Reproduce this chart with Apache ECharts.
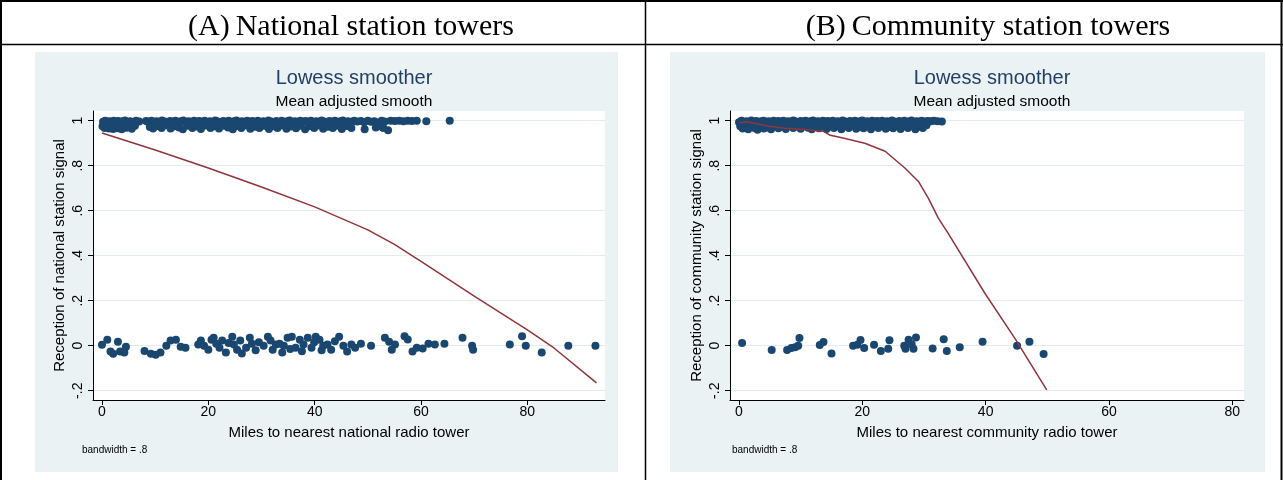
<!DOCTYPE html>
<html>
<head>
<meta charset="utf-8">
<script src="https://cdn.jsdelivr.net/npm/echarts@6/dist/echarts.min.js"></script>
<style>
html,body{margin:0;padding:0;background:#fff;}
#c{width:1283px;height:480px;}
</style>
</head>
<body>
<div id="c"></div>
<script>
// ---- tick labels ----
const xTicksNat = [0, 20, 40, 60, 80];
const xTicksCom = [0, 20, 40, 60, 80];
const yTicks = [-0.2, 0, 0.2, 0.4, 0.6, 0.8, 1];
const yTickLabels = ['-.2', '0', '.2', '.4', '.6', '.8', '1'];

// ---- Panel A: national station towers ----
const natTopUpper = [[0.2,0.995],[0.6,1.0],[1.0,0.99],[1.4,0.998],[1.8,0.992],[2.2,1.0],[2.6,0.994],[3.0,0.999],[3.4,0.99],[3.8,0.997],[4.3,1.001],[4.8,0.993],[5.3,0.998],[5.9,0.991],[6.4,1.0],[7.0,0.996],[8.3,0.999],[8.8,0.992],[9.3,1.0],[9.8,0.995],[10.3,0.998],[10.8,0.99],[11.3,1.001],[11.8,0.996],[12.3,0.993],[12.8,0.999],[13.3,0.994],[13.8,1.0],[14.3,0.99],[14.8,0.997],[15.3,1.001],[15.8,0.993],[16.3,0.998],[16.8,0.991],[17.3,1.0],[17.8,0.995],[18.3,0.999],[18.8,0.992],[19.3,1.0],[19.8,0.994],[20.3,0.998],[20.8,0.99],[21.3,1.001],[21.8,0.996],[22.3,0.993],[22.8,0.999],[23.3,0.994],[23.8,1.0],[24.3,0.991],[24.8,0.997],[25.3,1.001],[25.8,0.993],[26.3,0.998],[26.8,0.99],[27.3,1.0],[27.8,0.995],[28.3,0.999],[28.8,0.992],[29.3,1.0],[29.8,0.994],[30.3,0.998],[30.8,0.991],[31.3,1.001],[31.8,0.996],[32.3,0.993],[32.8,0.999],[33.3,0.994],[33.8,1.0],[34.3,0.99],[34.8,0.997],[35.3,1.001],[35.8,0.993],[36.3,0.998],[36.8,0.991],[37.3,1.0],[37.8,0.995],[38.3,0.999],[38.8,0.992],[39.3,1.0],[39.8,0.994],[40.3,0.998],[40.8,0.99],[41.3,1.001],[41.8,0.996],[42.3,0.993],[42.8,0.999],[43.3,0.994],[43.8,1.0],[44.3,0.991],[44.8,0.997],[45.3,1.001],[45.8,0.993],[46.3,0.998],[46.8,0.99],[47.4,1.0],[48.0,0.996],[48.7,0.999],[49.3,0.993],[50.0,1.0],[50.6,0.995],[51.2,0.998],[51.9,0.992],[52.6,1.0],[53.2,0.996],[54.3,1.0],[55.1,0.999],[55.9,1.0],[56.7,0.998],[57.5,1.0],[58.3,0.999],[59.2,1.0],[61.0,0.998],[65.4,1.0]];
const natTopLower = [[0.1,0.975],[0.5,0.968],[0.9,0.98],[1.3,0.965],[1.7,0.972],[2.1,0.963],[2.5,0.978],[2.9,0.966],[3.3,0.973],[3.7,0.962],[4.1,0.977],[4.6,0.969],[5.1,0.975],[5.6,0.964],[6.2,0.978],[9.0,0.972],[9.6,0.965],[10.5,0.976],[11.2,0.968],[12.0,0.98],[12.9,0.965],[13.6,0.975],[14.5,0.97],[15.2,0.962],[16.1,0.978],[17.0,0.967],[17.9,0.974],[18.6,0.963],[19.5,0.979],[20.4,0.968],[21.1,0.975],[22.0,0.965],[22.9,0.978],[23.7,0.97],[24.6,0.962],[25.4,0.976],[26.2,0.967],[27.1,0.979],[27.9,0.964],[28.8,0.973],[29.6,0.968],[30.5,0.978],[31.4,0.963],[32.1,0.975],[33.0,0.967],[33.9,0.979],[34.7,0.964],[35.6,0.974],[36.5,0.966],[37.3,0.978],[38.2,0.962],[39.0,0.975],[39.9,0.968],[40.8,0.979],[41.6,0.964],[42.5,0.973],[43.4,0.967],[44.2,0.978],[45.1,0.963],[46.0,0.976],[46.9,0.968],[49.4,0.962],[51.5,0.97],[52.3,0.975],[52.9,0.968],[53.8,0.958]];
const natBottom = [[0.0,0.004],[1.0,0.026],[1.6,-0.026],[2.1,-0.036],[3.0,0.018],[3.4,-0.026],[4.2,-0.03],[4.5,-0.005],[8.0,-0.023],[9.2,-0.036],[10.1,-0.04],[11.0,-0.03],[12.1,0.0],[12.9,0.023],[13.9,0.026],[14.8,-0.005],[15.7,-0.009],[18.1,0.005],[18.6,0.023],[19.2,0.0],[20.0,-0.018],[20.6,0.026],[21.0,0.035],[21.5,0.009],[22.1,-0.009],[22.6,0.023],[23.3,-0.03],[23.8,0.012],[24.5,0.04],[24.8,0.005],[25.4,-0.018],[26.0,0.023],[26.3,-0.035],[27.1,-0.009],[27.8,0.035],[28.2,0.009],[28.9,-0.02],[29.5,0.015],[30.4,0.0],[31.2,0.04],[31.7,0.023],[32.1,-0.018],[32.7,0.005],[33.4,0.009],[33.9,-0.03],[34.2,0.0],[34.9,0.035],[35.4,-0.015],[35.7,0.04],[36.4,-0.009],[37.2,0.026],[37.6,-0.025],[37.9,0.005],[38.7,0.035],[39.4,-0.009],[39.9,0.015],[40.2,0.04],[40.9,0.026],[41.3,-0.02],[41.6,0.0],[42.4,0.005],[43.1,-0.018],[43.8,0.02],[44.6,0.04],[45.4,0.0],[46.1,-0.026],[46.9,0.005],[47.6,-0.009],[48.7,0.009],[50.6,0.0],[53.2,0.035],[54.0,0.018],[54.5,-0.018],[55.1,0.005],[56.9,0.042],[57.5,0.028],[58.4,-0.026],[59.2,-0.009],[60.3,-0.012],[61.4,0.009],[62.6,0.005],[64.4,0.009],[67.8,0.035],[69.6,0.0],[69.8,-0.018],[76.7,0.005],[79.0,0.042],[79.7,0.0],[82.7,-0.03],[87.7,0.0],[92.8,0.0]];
const natLowess = [[0,0.945],[10,0.87],[20,0.79],[30,0.705],[40,0.617],[50,0.515],[55,0.45],[60,0.375],[70,0.22],[80,0.07],[85,-0.01],[93,-0.165]];

// ---- Panel B: community station towers ----
const comTopUpper = [[0,0.993],[0.4,1.0],[0.8,0.99],[1.2,0.998],[1.6,0.992],[2.0,1.001],[2.4,0.994],[2.8,0.999],[3.2,0.991],[3.6,0.997],[4.0,1.0],[4.4,0.993],[4.8,0.998],[5.2,0.99],[5.6,1.0],[6.0,0.995],[6.4,0.999],[6.8,0.992],[7.2,1.0],[7.6,0.994],[8.0,0.998],[8.4,0.991],[8.8,1.001],[9.2,0.996],[9.6,0.993],[10.0,0.999],[10.4,0.994],[10.8,1.0],[11.2,0.99],[11.6,0.997],[12.0,1.001],[12.4,0.993],[12.8,0.998],[13.2,0.991],[13.6,1.0],[14.0,0.995],[14.4,0.999],[14.8,0.992],[15.2,1.0],[15.6,0.994],[16.0,0.998],[16.4,0.99],[16.8,1.001],[17.2,0.996],[17.6,0.993],[18.0,0.999],[18.4,0.994],[18.8,1.0],[19.2,0.991],[19.6,0.997],[20.0,1.001],[20.4,0.993],[20.8,0.998],[21.2,0.99],[21.6,1.0],[22.0,0.995],[22.4,0.999],[22.8,0.992],[23.2,1.0],[23.6,0.994],[24.0,0.998],[24.4,0.991],[24.8,1.001],[25.2,0.996],[25.6,0.993],[26.0,0.999],[26.4,0.994],[26.8,1.0],[27.2,0.99],[27.6,0.997],[28.0,1.001],[28.4,0.993],[28.8,0.998],[29.2,0.991],[29.6,1.0],[30.1,0.996],[30.6,0.999],[31.1,0.997],[31.6,1.0],[32.2,0.998],[32.9,0.996]];
const comTopLower = [[0.2,0.975],[0.6,0.965],[1.1,0.972],[1.5,0.962],[2.0,0.978],[2.5,0.967],[3.0,0.96],[3.5,0.974],[4.0,0.965],[4.6,0.97],[5.2,0.962],[5.8,0.977],[6.4,0.966],[7.0,0.973],[7.6,0.963],[8.2,0.978],[8.8,0.968],[9.4,0.975],[10.0,0.964],[10.6,0.978],[11.2,0.969],[11.8,0.962],[12.4,0.976],[13.0,0.966],[13.6,0.979],[14.2,0.963],[14.8,0.974],[15.4,0.967],[16.0,0.977],[16.6,0.962],[17.2,0.975],[17.8,0.968],[18.4,0.979],[19.0,0.964],[19.6,0.973],[20.2,0.966],[20.8,0.978],[21.4,0.962],[22.0,0.975],[22.6,0.967],[23.2,0.979],[23.8,0.964],[24.4,0.973],[25.0,0.966],[25.6,0.978],[26.2,0.963],[26.8,0.975],[27.4,0.968],[28.0,0.979],[28.6,0.962],[29.2,0.974],[29.8,0.967],[30.4,0.98]];
const comBottom = [[0.5,0.012],[5.3,-0.019],[7.8,-0.019],[8.5,-0.01],[9.1,-0.007],[9.6,0.0],[9.8,0.034],[13.1,0.003],[13.7,0.016],[15.0,-0.035],[18.5,0.0],[19.2,0.004],[19.7,0.025],[20.3,-0.01],[21.9,0.004],[23.0,-0.024],[24.2,-0.013],[24.4,0.024],[26.8,0.0],[27.0,-0.013],[27.5,0.026],[28.0,0.006],[28.3,-0.013],[28.7,0.037],[31.4,-0.012],[33.2,0.029],[33.7,-0.024],[35.8,-0.007],[39.5,0.018],[45.1,0.0],[47.1,0.018],[49.4,-0.037]];
const comLowess = [[0,0.99],[1.2,0.995],[3.1,0.985],[4.8,0.975],[7.5,0.966],[10.2,0.962],[13.7,0.953],[14.8,0.935],[16.7,0.924],[20.4,0.9],[23.7,0.864],[26.9,0.79],[29.1,0.73],[30.7,0.656],[32.3,0.568],[33.9,0.5],[39.9,0.232],[44.8,0.03],[49.9,-0.196]];

const NAVY = '#1a476f';
const MAROON = '#90353b';
const BG = '#eaf2f3';
const GRID = '#e3ecee';
const SANS = '"Liberation Sans", Arial, sans-serif';
const SERIF = '"Liberation Serif", "Times New Roman", serif';

function yLabel(v){
  const i = yTicks.findIndex(t => Math.abs(t - v) < 1e-9);
  return i >= 0 ? yTickLabels[i] : '';
}

function xAxis(gridIndex, min, max, ticks, name){
  return {
    type: 'value', gridIndex, min, max, name,
    nameLocation: 'middle', nameGap: 25,
    nameTextStyle: {fontFamily: SANS, fontSize: 15, color: '#000'},
    axisLine: {show: true, onZero: false, lineStyle: {color: '#000', width: 1}},
    axisTick: {show: true, length: 5, inside: false, customValues: ticks, lineStyle: {color: '#000'}},
    axisLabel: {customValues: ticks, fontFamily: SANS, fontSize: 14, color: '#000', margin: 5, formatter: v => String(v)},
    splitLine: {show: false}
  };
}
function yAxis(gridIndex, name){
  return {
    type: 'value', gridIndex, min: -0.2413, max: 1.0431, name,
    nameLocation: 'middle', nameGap: 26, nameRotate: 90,
    nameTextStyle: {fontFamily: SANS, fontSize: 15, color: '#000'},
    axisLine: {show: true, onZero: false, lineStyle: {color: '#000', width: 1}},
    axisTick: {show: true, length: 5, customValues: yTicks, lineStyle: {color: '#000'}},
    axisLabel: {customValues: yTicks, rotate: 90, fontFamily: SANS, fontSize: 14, color: '#000', margin: 8, formatter: yLabel},
    splitLine: {show: true, lineStyle: {color: GRID, width: 1}}
  };
}

const chart = echarts.init(document.getElementById('c'), null, {renderer: 'canvas'});
chart.setOption({
  animation: false,
  backgroundColor: '#fff',
  graphic: [
    {type: 'rect', shape: {x: 35, y: 52, width: 583, height: 420}, style: {fill: BG}, z: -10},
    {type: 'rect', shape: {x: 670, y: 52, width: 595, height: 420}, style: {fill: BG}, z: -10},
    {type: 'line', shape: {x1: 0, y1: 1, x2: 1283, y2: 1}, style: {stroke: '#000', lineWidth: 2}},
    {type: 'line', shape: {x1: 0, y1: 44.5, x2: 1283, y2: 44.5}, style: {stroke: '#000', lineWidth: 1.5}},
    {type: 'line', shape: {x1: 1, y1: 0, x2: 1, y2: 480}, style: {stroke: '#000', lineWidth: 2}},
    {type: 'line', shape: {x1: 645.5, y1: 0, x2: 645.5, y2: 480}, style: {stroke: '#000', lineWidth: 1.5}},
    {type: 'line', shape: {x1: 1281.5, y1: 0, x2: 1281.5, y2: 480}, style: {stroke: '#000', lineWidth: 2}},
    {type: 'text', x: 351, y: 27, style: {text: '(A)\u2009National station towers', font: '30px ' + SERIF, fill: '#000', textAlign: 'center', textVerticalAlign: 'middle'}},
    {type: 'text', x: 988, y: 27, style: {text: '(B)\u2009Community station towers', font: '30px ' + SERIF, fill: '#000', textAlign: 'center', textVerticalAlign: 'middle'}},
    {type: 'text', x: 82, y: 450, style: {text: 'bandwidth = .8', font: '10px ' + SANS, fill: '#000', textVerticalAlign: 'middle'}},
    {type: 'text', x: 732, y: 450, style: {text: 'bandwidth = .8', font: '10px ' + SANS, fill: '#000', textVerticalAlign: 'middle'}}
  ],
  title: [
    {text: 'Lowess smoother', subtext: 'Mean adjusted smooth', left: 349, top: 63, textAlign: 'center', itemGap: 6,
     textStyle: {fontFamily: SANS, fontSize: 20, fontWeight: 'normal', color: '#243f66'},
     subtextStyle: {fontFamily: SANS, fontSize: 15.5, color: '#000'}},
    {text: 'Lowess smoother', subtext: 'Mean adjusted smooth', left: 987, top: 63, textAlign: 'center', itemGap: 6,
     textStyle: {fontFamily: SANS, fontSize: 20, fontWeight: 'normal', color: '#243f66'},
     subtextStyle: {fontFamily: SANS, fontSize: 15.5, color: '#000'}}
  ],
  grid: [
    {left: 93, top: 111, width: 512, height: 289, show: true, backgroundColor: '#fff', borderWidth: 0, containLabel: false},
    {left: 730, top: 111, width: 514, height: 289, show: true, backgroundColor: '#fff', borderWidth: 0, containLabel: false}
  ],
  xAxis: [
    xAxis(0, -1.69, 94.6, xTicksNat, 'Miles to nearest national radio tower'),
    xAxis(1, -1.46, 81.9, xTicksCom, 'Miles to nearest community radio tower')
  ],
  yAxis: [
    yAxis(0, 'Reception of national station signal'),
    yAxis(1, 'Reception of community station signal')
  ],
  series: [
    {type: 'scatter', xAxisIndex: 0, yAxisIndex: 0, data: natTopLower, symbol: 'circle', symbolSize: 8, itemStyle: {color: NAVY, opacity: 1}, z: 2},
    {type: 'scatter', xAxisIndex: 0, yAxisIndex: 0, data: natTopUpper, symbol: 'circle', symbolSize: 8, itemStyle: {color: NAVY, opacity: 1}, z: 2},
    {type: 'scatter', xAxisIndex: 0, yAxisIndex: 0, data: natBottom, symbol: 'circle', symbolSize: 8, itemStyle: {color: NAVY, opacity: 1}, z: 2},
    {type: 'line', xAxisIndex: 0, yAxisIndex: 0, data: natLowess, showSymbol: false, smooth: false, lineStyle: {color: MAROON, width: 1.5}, z: 3},
    {type: 'scatter', xAxisIndex: 1, yAxisIndex: 1, data: comTopLower, symbol: 'circle', symbolSize: 8, itemStyle: {color: NAVY, opacity: 1}, z: 2},
    {type: 'scatter', xAxisIndex: 1, yAxisIndex: 1, data: comTopUpper, symbol: 'circle', symbolSize: 8, itemStyle: {color: NAVY, opacity: 1}, z: 2},
    {type: 'scatter', xAxisIndex: 1, yAxisIndex: 1, data: comBottom, symbol: 'circle', symbolSize: 8, itemStyle: {color: NAVY, opacity: 1}, z: 2},
    {type: 'line', xAxisIndex: 1, yAxisIndex: 1, data: comLowess, showSymbol: false, smooth: false, lineStyle: {color: MAROON, width: 1.5}, z: 3}
  ]
});
</script>
</body>
</html>
